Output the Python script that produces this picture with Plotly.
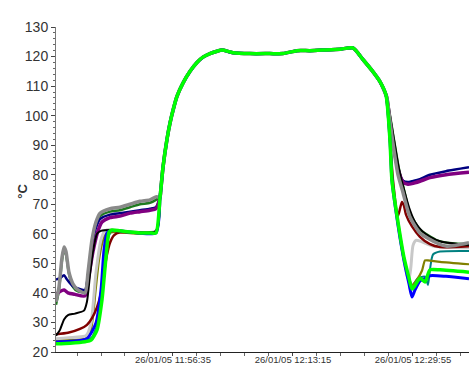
import pandas as pd
import plotly.graph_objects as go

START = pd.Timestamp("2005-01-26 11:40:20")
END_S = 3442  # seconds shown after START

# shared heating / plateau / first cooling segment (seconds, °C)
MID_T = [867, 875, 892, 925, 950, 983, 1008, 1058, 1117, 1175, 1225, 1283, 1342, 1383,
         1475, 1617, 1783, 1892, 2008, 2117, 2225, 2367, 2475, 2558, 2633, 2700, 2750]
MID_V = [72.5, 75.5, 82.6, 92, 97.5, 103, 106.5, 111, 115, 118, 119.8, 121, 121.8, 122.2,
         121.3, 121, 121, 121, 122, 122, 122.2, 122.5, 122.9, 119, 115.3, 111.5, 107]

# --- per-sensor start (before heating) and end (cooling) segments ---
TEAL_ST = [0, 242, 300, 350, 383, 417, 442, 467, 533, 833]
TEAL_SV = [23, 23.5, 25, 30, 40, 53, 59.5, 60.8, 60.8, 60.4]
TEAL_ET = [2783, 2800, 2850, 2900, 2942, 2967, 3017, 3075, 3100, 3117, 3142, 3200, 3442]
TEAL_EV = [92, 78, 64, 52, 45, 42.5, 45, 45.5, 42.7, 48, 53, 54, 54.2]

OLIVE_ST = [0, 242, 283, 308, 333, 358, 383, 408, 450, 533, 833]
OLIVE_SV = [24, 24.5, 26, 32, 42, 51, 56.5, 59.5, 60.5, 60.5, 60.5]
OLIVE_ET = [2783, 2800, 2850, 2900, 2942, 2967, 3000, 3050, 3075, 3100, 3200, 3442]
OLIVE_EV = [92, 78, 64, 52, 45, 42.5, 44, 47.5, 51, 51, 50.5, 49.7]

SILVER_ST = [0, 158, 250, 292, 333, 375, 408, 450, 533, 833]
SILVER_SV = [24.5, 25, 25.5, 29.8, 46.8, 58, 61, 61.5, 61, 61]
SILVER_ET = [2783, 2808, 2850, 2892, 2925, 2942, 2958, 2975, 3000, 3050, 3150, 3442]
SILVER_EV = [92, 78, 64, 53, 46, 44.5, 49, 56, 57.8, 57.3, 55.8, 55.3]

DRED_ST = [0, 100, 200, 258, 300, 342, 375, 400, 425, 450, 483, 533, 617, 833]
DRED_SV = [26, 26.5, 27.8, 29.2, 31.5, 35.2, 40, 46.8, 53, 57, 59.5, 60.5, 60.5, 60.8]
DRED_ET = [2783, 2808, 2850, 2883, 2900, 2917, 2967, 3033, 3117, 3200, 3442]
DRED_EV = [92, 78, 66, 70.8, 69.5, 66.5, 62.5, 59, 56.5, 55.5, 55.8]

DGREEN_ST = [0, 25, 50, 67, 83, 108, 142, 183, 242, 267, 300, 333, 367, 450, 533, 617, 700, 783, 833]
DGREEN_SV = [36, 41, 51, 54.5, 53, 46.5, 42, 40.5, 40.5, 46, 57, 63, 66, 67.5, 68, 69, 70, 70.5, 71.5]
DGREEN_ET = [2758, 2808, 2858, 2900, 2950, 3033, 3175, 3300, 3442]
DGREEN_EV = [106, 94, 82, 75, 67, 61.5, 57.8, 56.8, 56.5]

NAVY_ST = [0, 33, 67, 92, 133, 183, 242, 267, 300, 333, 367, 450, 533, 617, 700, 783, 833]
NAVY_SV = [44.5, 45, 46, 44.5, 42.5, 41.5, 41, 46, 56, 62, 65, 66.5, 67, 67.5, 68, 68.5, 69]
NAVY_ET = [2758, 2800, 2850, 2892, 2933, 2967, 3033, 3117, 3250, 3442]
NAVY_EV = [106, 93, 82, 78, 77.5, 77.8, 78.5, 80, 81.2, 82.5]

PURPLE_ST = [0, 33, 67, 100, 158, 242, 267, 308, 350, 383, 450, 533, 617, 700, 783, 833]
PURPLE_SV = [39.5, 40.5, 41, 40, 39.5, 39, 44, 54, 61, 64, 65.5, 66, 67, 67.5, 68, 68.5]
PURPLE_ET = [2758, 2800, 2850, 2892, 2933, 2967, 3033, 3117, 3250, 3442]
PURPLE_EV = [106, 93, 82, 77.5, 76.8, 77, 77.8, 79, 80, 80.8]

BLACK_ST = [0, 33, 67, 100, 158, 233, 258, 283, 308, 342, 375, 450, 533, 617, 833]
BLACK_SV = [25.5, 27.5, 31, 32.5, 33, 34, 37, 46, 54, 60, 61, 61.3, 61, 60.6, 61]
BLACK_ET = [2758, 2808, 2858, 2900, 2950, 2992, 3050, 3117, 3200, 3300, 3442]
BLACK_EV = [106, 94, 82, 75, 68, 64, 61, 59, 57.5, 56.8, 56.2]

GRAY_ST = [0, 25, 50, 67, 83, 108, 142, 183, 242, 267, 300, 333, 367, 450, 533, 617, 700, 783, 833]
GRAY_SV = [37, 42, 52, 55.5, 54, 47, 43, 41, 40, 47, 58, 64, 67, 68.5, 69, 70, 71, 71.5, 72.5]
GRAY_ET = [2758, 2800, 2850, 2892, 2917, 2950, 3033, 3175, 3258, 3442]
GRAY_EV = [106, 93, 80, 74, 70, 65.7, 60.3, 56.9, 55.8, 57]

BLUE_ST = [0, 117, 258, 333, 375, 400, 425, 450, 533, 617, 833]
BLUE_SV = [23.4, 23.6, 24.5, 29.8, 41, 54.5, 60.3, 61, 61, 60.6, 60.3]
BLUE_ET = [2783, 2800, 2850, 2900, 2942, 2967, 2992, 3033, 3075, 3117, 3250, 3442]
BLUE_EV = [92, 78, 63, 51, 43, 38.6, 41, 44, 44.8, 45.8, 45.6, 44.8]

LIME_ST = [0, 117, 242, 292, 342, 383, 417, 442, 467, 533, 617, 700, 783, 833]
LIME_SV = [22.8, 23, 23.5, 24, 27.5, 37.6, 52.2, 60.6, 61.3, 61, 60.6, 60.3, 60.3, 60.3]
LIME_ET = [2783, 2800, 2850, 2900, 2942, 2967, 2992, 3033, 3075, 3117, 3200, 3442]
LIME_EV = [92, 78, 64, 52, 45, 41.3, 42.5, 45, 43.7, 47.8, 47.8, 47]

SERIES = [
    ("teal", "#008080", 2, TEAL_ST, TEAL_SV, TEAL_ET, TEAL_EV),
    ("olive", "#808000", 2.2, OLIVE_ST, OLIVE_SV, OLIVE_ET, OLIVE_EV),
    ("silver", "#c8c8c8", 3, SILVER_ST, SILVER_SV, SILVER_ET, SILVER_EV),
    ("darkred", "#800000", 2.5, DRED_ST, DRED_SV, DRED_ET, DRED_EV),
    ("darkgreen", "#1f7a1f", 2.5, DGREEN_ST, DGREEN_SV, DGREEN_ET, DGREEN_EV),
    ("navy", "#000080", 2.5, NAVY_ST, NAVY_SV, NAVY_ET, NAVY_EV),
    ("purple", "#800080", 3.5, PURPLE_ST, PURPLE_SV, PURPLE_ET, PURPLE_EV),
    ("black", "#000000", 2, BLACK_ST, BLACK_SV, BLACK_ET, BLACK_EV),
    ("gray", "#8a8a8a", 3.5, GRAY_ST, GRAY_SV, GRAY_ET, GRAY_EV),
    ("blue", "#0000ff", 3, BLUE_ST, BLUE_SV, BLUE_ET, BLUE_EV),
    ("lime", "#00ff00", 3.5, LIME_ST, LIME_SV, LIME_ET, LIME_EV),
]


def to_time(secs):
    return [START + pd.Timedelta(seconds=s) for s in secs]


fig = go.Figure()
for name, color, width, st, sv, et, ev in SERIES:
    t = st + MID_T + et
    v = sv + MID_V + ev
    fig.add_trace(go.Scatter(x=to_time(t), y=v, mode="lines", name=name,
                             line=dict(color=color, width=width, shape="spline", smoothing=0.6),
                             hoverinfo="skip"))

fig.update_layout(
    width=469, height=369,
    margin=dict(l=56, r=0, t=27, b=17, autoexpand=False),
    paper_bgcolor="white", plot_bgcolor="white",
    showlegend=False,
    font=dict(family="Liberation Sans, Arial, sans-serif", color="#222"),
)
fig.update_xaxes(
    type="date",
    range=[START, START + pd.Timedelta(seconds=END_S)],
    tick0="2005-01-26 11:56:35", dtick=1000000,
    tickformat="%d/%m/%y %H:%M:%S",
    tickfont=dict(size=9.5, color="#333"),
    ticks="outside", ticklen=3, tickcolor="#444",
    ticklabelstandoff=-4,
    minor=dict(dtick=200000, tick0="2005-01-26 11:56:35", ticks="outside", ticklen=3, tickcolor="#666"),
    showgrid=False, zeroline=False, showline=True, linecolor="#222", linewidth=1,
    automargin=False, fixedrange=True,
)
fig.update_yaxes(
    range=[20, 130], dtick=10, tick0=20,
    tickfont=dict(size=14, color="#333"),
    ticks="outside", ticklen=4, tickcolor="#444",
    minor=dict(dtick=2, ticks="outside", ticklen=2, tickcolor="#666"),
    showgrid=False, zeroline=False, showline=True, linecolor="#777", linewidth=1,
    automargin=False, fixedrange=True,
)
fig.add_annotation(text="<b>°C</b>", xref="paper", yref="paper", x=0, xshift=-43,
                   y=0.495, textangle=-90, showarrow=False,
                   font=dict(size=13, color="#333"))

fig.write_html("out.html", config={"displayModeBar": False},
               post_script="document.body.style.margin='0px';document.body.style.overflow='hidden';")
